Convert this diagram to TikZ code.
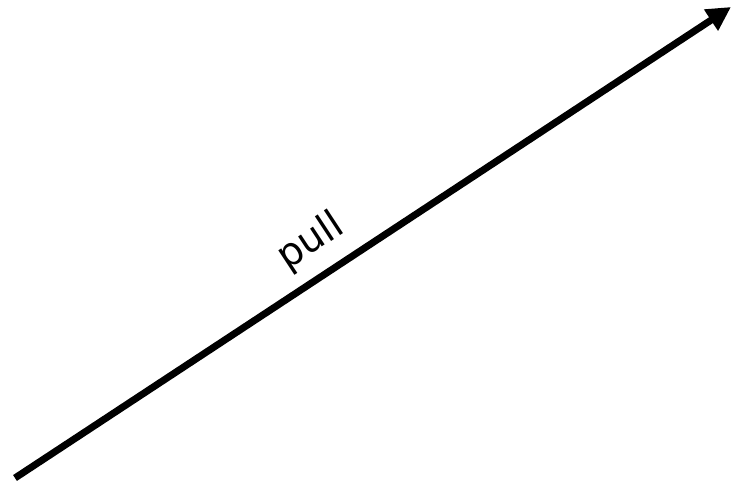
\documentclass[tikz,border=0pt]{standalone}
\usepackage{fontspec}
\setmainfont{DejaVu Sans}
\usetikzlibrary{arrows.meta}

\begin{document}
\begin{tikzpicture}[
    x=1bp, y=1bp,
    force/.style={line width=7bp, -{Triangle[length=24bp, width=24bp]}},
    every node/.style={font=\fontsize{39}{46}\selectfont}
  ]
    \useasboundingbox (0,0) rectangle (731,484);
    \coordinate (start) at (15,6);
    \coordinate (tip) at (731,477);
    \draw[force] (start) -- node[pos=0.44, sloped, above=9bp] (label) {pull} (tip);
  \end{tikzpicture}
\end{document}
